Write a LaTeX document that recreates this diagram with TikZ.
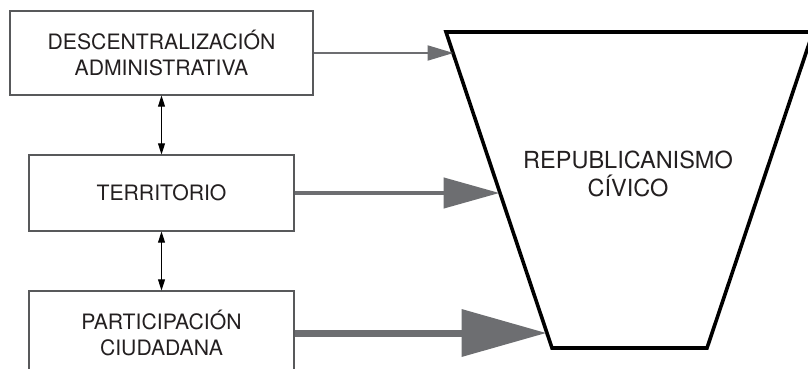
\documentclass[tikz,border=0pt]{standalone}
\usepackage{fontspec}
\setmainfont{TeX Gyre Heros}
\usetikzlibrary{arrows.meta}
\definecolor{boxline}{HTML}{58595B}
\definecolor{inkc}{HTML}{231F20}
\definecolor{flowgray}{HTML}{6D6E71}
\begin{document}
\begin{tikzpicture}[x=1pt,y=-1pt,
  box/.style={draw=boxline,line width=1.3pt,inner sep=0pt,align=center,
    text=inkc,font=\fontsize{21.2}{26}\selectfont},
  link/.style={draw=black,line width=0.9pt,{Triangle[length=11pt,width=7pt]}-{Triangle[length=11pt,width=7pt]}},
  flow/.style={draw=flowgray,fill=flowgray}]
\useasboundingbox (0,0) rectangle (808,369);
\clip (0,0) rectangle (808,369);

% left column of factors
\node[box,minimum width=303pt,minimum height=84pt] (b1) at (161.5,53)
  {DESCENTRALIZACIÓN\\ADMINISTRATIVA};
\node[box,minimum width=265pt,minimum height=76pt] (b2) at (161.5,193)
  {TERRITORIO};
\node[box,minimum width=265pt,minimum height=84pt] (b3) at (161.5,333)
  {PARTICIPACIÓN\\CIUDADANA};

% funnel
\coordinate (tl) at (446,32);
\coordinate (tr) at (813,32);
\coordinate (br) at (707,348);
\coordinate (bl) at (552,348);
\draw[line width=3.6pt,line join=miter] (tl) -- (tr) -- (br) -- (bl) -- cycle;
\node[text=inkc,align=center,font=\fontsize{23.5}{28}\selectfont] (rc) at (628,174)
  {REPUBLICANISMO\\CÍVICO};

% entry points on the funnel's left side
\coordinate (p1) at (453.5,53);
\coordinate (p2) at (499.5,193);
\coordinate (p3) at (546.5,333);

% mutual links between factors
\draw[link] (b1.south) -- (b2.north);
\draw[link] (b2.south) -- (b3.north);

% weighted flows into the funnel
\draw[flow,line width=2pt,-{Triangle[length=26pt,width=15pt]}] (b1.east) -- (p1);
\draw[flow,line width=4.5pt,-{Triangle[length=56pt,width=30pt]}] (b2.east) -- (p2);
\draw[flow,line width=7pt,-{Triangle[length=85pt,width=46pt]}] (b3.east) -- (p3);
\end{tikzpicture}
\end{document}
